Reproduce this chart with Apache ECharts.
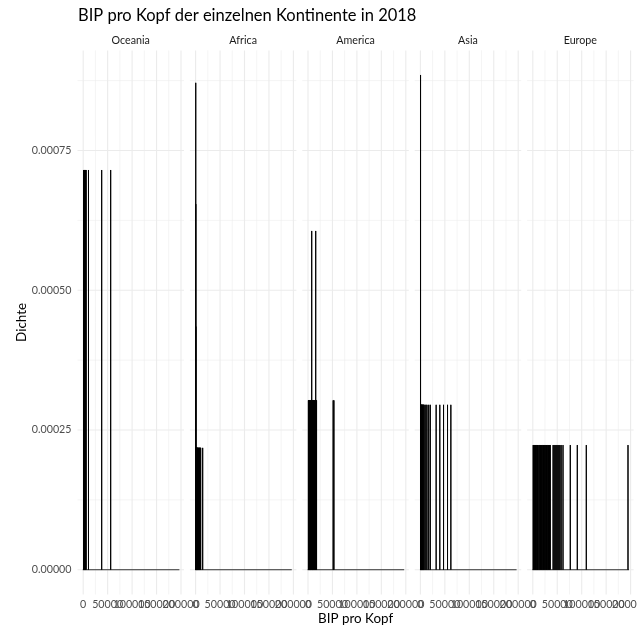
<!DOCTYPE html>
<html>
<head>
<meta charset="utf-8">
<script src="https://cdn.jsdelivr.net/npm/echarts@6/dist/echarts.min.js"></script>
<style>html,body{margin:0;padding:0;background:#fff}#c{width:637px;height:626px}</style>
</head>
<body>
<div id="c"></div>
<script>
// ---- data ----
const continents = ['Oceania', 'Africa', 'America', 'Asia', 'Europe'];

const oceaniaX = [1000, 1600, 2100, 2700, 3100, 3500, 4000, 4300, 5200, 5900, 10800, 37800, 56200];
const oceaniaD = [0.000715, 0.000715, 0.000715, 0.000715, 0.000715, 0.000715, 0.000715, 0.000715, 0.000715, 0.000715, 0.000715, 0.000715, 0.000715];

const africaX = [300, 450, 600, 750, 1000, 1300, 1500, 1700, 2000, 2200, 2500, 2900, 3300, 3600, 4100, 4500, 5000, 5900, 6400, 7200, 8000, 8300, 9000, 10000, 10400, 14500];
const africaD = [0.000871, 0.000654, 0.000435, 0.000218, 0.000218, 0.000218, 0.000218, 0.000218, 0.000218, 0.000218, 0.000218, 0.000218, 0.000218, 0.000218, 0.000218, 0.000218, 0.000218, 0.000218, 0.000218, 0.000218, 0.000218, 0.000218, 0.000218, 0.000218, 0.000218, 0.000218];

const americaX = [800, 1500, 2300, 3000, 3600, 4400, 5200, 6000, 6900, 7600, 8300, 9000, 9800, 10600, 11400, 12300, 13100, 14000, 14900, 15800, 16600, 17500, 51500, 53000];
const americaD = [0.000303, 0.000303, 0.000303, 0.000303, 0.000303, 0.000303, 0.000303, 0.000303, 0.000303, 0.000606, 0.000303, 0.000303, 0.000303, 0.000303, 0.000303, 0.000303, 0.000303, 0.000303, 0.000303, 0.000606, 0.000303, 0.000303, 0.000303, 0.000303];

const asiaX = [300, 1000, 1500, 2000, 2500, 3000, 3600, 4200, 5000, 5800, 6500, 7300, 9400, 11500, 13500, 17000, 20200, 32200, 39700, 47300, 55500, 62300];
const asiaD = [0.000885, 0.000295, 0.000295, 0.000295, 0.000295, 0.000295, 0.000295, 0.000295, 0.000295, 0.000295, 0.000295, 0.000295, 0.000295, 0.000295, 0.000295, 0.000295, 0.000295, 0.000295, 0.000295, 0.000295, 0.000295, 0.000295];

const europeX = [800, 2000, 3200, 4500, 5800, 7000, 8400, 9600, 11000, 13000, 14500, 16000, 17500, 19000, 20500, 22000, 23500, 25000, 26500, 28000, 29500, 31000, 32500, 34000, 35800,
                 41500, 43500, 45500, 47500, 49500, 51500, 53500, 55500, 58000,
                 61800, 76700, 91000, 109400, 194700];
const europeD = europeX.map(() => 0.000223);

const binWidth = 100;
const binRange = [-900, 196700];

const xMajor = [0, 50000, 100000, 150000, 200000];
const xMinor = [25000, 75000, 125000, 175000];
const xLabels = ['0', '50000', '100000', '150000', '200000'];
const yMajor = [0, 0.00025, 0.0005, 0.00075];
const yMinor = [0.000125, 0.000375, 0.000625, 0.000875];
const yLabels = ['0.00000', '0.00025', '0.00050', '0.00075'];

const titleText = 'BIP pro Kopf der einzelnen Kontinente in 2018';
const xTitle = 'BIP pro Kopf';
const yTitle = 'Dichte';

// ---- layout ----
const FONT = 'Lato';
const PANEL_LEFT = 77.5, STEP = 112.4, PANEL_W = 106.5, TOP = 50.4, H = 544.1;
const X_MIN = -11650, X_MAX = 206140, Y_MIN = -0.0000443, Y_MAX = 0.000929;

const seriesX = [oceaniaX, africaX, americaX, asiaX, europeX];
const seriesD = [oceaniaD, africaD, americaD, asiaD, europeD];

const grids = [], xAxes = [], yAxes = [], series = [], graphics = [];

const gridData = [];
xMajor.forEach(v => gridData.push([0, v, 1]));
xMinor.forEach(v => gridData.push([0, v, 0]));
yMajor.forEach(v => gridData.push([1, v, 1]));
yMinor.forEach(v => gridData.push([1, v, 0]));

const xLabelData = xMajor.map((v, k) => [v, 0, k]);

continents.forEach((name, i) => {
  const left = PANEL_LEFT + i * STEP;
  grids.push({left: left, top: TOP, width: PANEL_W, height: H, containLabel: false});
  xAxes.push({
    type: 'value', gridIndex: i, min: X_MIN, max: X_MAX,
    axisLine: {show: false}, axisTick: {show: false}, splitLine: {show: false},
    axisLabel: {show: false}
  });
  yAxes.push({
    type: 'value', gridIndex: i, min: Y_MIN, max: Y_MAX,
    axisLine: {show: false}, axisTick: {show: false}, splitLine: {show: false},
    axisLabel: {show: i === 0, customValues: yMajor, color: '#4d4d4d', fontSize: 10.7, fontFamily: FONT, margin: 6,
                formatter: v => { const k = yMajor.findIndex(t => Math.abs(t - v) < 1e-9); return k >= 0 ? yLabels[k] : ''; }}
  });
  // background grid lines
  series.push({
    type: 'custom', xAxisIndex: i, yAxisIndex: i, z: 0, silent: true,
    data: gridData,
    encode: {x: 1, y: 1},
    renderItem: (params, api) => {
      const cs = params.coordSys;
      const orient = api.value(0), v = api.value(1), major = api.value(2);
      const lw = major ? 1.1 : 0.55;
      if (orient === 0) {
        const px = api.coord([v, 0])[0];
        return {type: 'line', shape: {x1: px, y1: cs.y, x2: px, y2: cs.y + cs.height},
                style: {stroke: '#ebebeb', lineWidth: lw}};
      } else {
        const py = api.coord([0, v])[1];
        return {type: 'line', shape: {x1: cs.x, y1: py, x2: cs.x + cs.width, y2: py},
                style: {stroke: '#ebebeb', lineWidth: lw}};
      }
    }
  });
  // x tick labels (placed through the x scale)
  series.push({
    type: 'custom', xAxisIndex: i, yAxisIndex: i, z: 1, silent: true,
    data: xLabelData,
    encode: {x: 0, y: 1},
    renderItem: (params, api) => {
      const cs = params.coordSys;
      const px = api.coord([api.value(0), 0])[0];
      return {type: 'text', x: px, y: cs.y + cs.height + 10,
              style: {text: xLabels[api.value(2)], fill: '#4d4d4d', font: '10.7px ' + FONT,
                      textAlign: 'center', textVerticalAlign: 'middle'}};
    }
  });
  // zero-height bins: baseline
  series.push({
    type: 'line', xAxisIndex: i, yAxisIndex: i, z: 2, silent: true, symbol: 'none',
    data: [[binRange[0], 0], [binRange[1], 0]],
    lineStyle: {color: '#333', width: 1}
  });
  // histogram bars
  const bars = seriesX[i].map((x, k) => [x, seriesD[i][k]]);
  series.push({
    type: 'custom', xAxisIndex: i, yAxisIndex: i, z: 3, silent: true,
    data: bars,
    encode: {x: 0, y: 1},
    renderItem: (params, api) => {
      const x = api.value(0), d = api.value(1);
      const p0 = api.coord([x - binWidth / 2, 0]);
      const p1 = api.coord([x + binWidth / 2, d]);
      return {type: 'rect',
              shape: {x: p0[0], y: p1[1], width: p1[0] - p0[0], height: p0[1] - p1[1]},
              style: {fill: '#fff', stroke: '#000', lineWidth: 1}};
    }
  });
  graphics.push({type: 'text', x: left + PANEL_W / 2, y: 41,
    style: {text: name, fill: '#1a1a1a', font: '10.7px ' + FONT, textAlign: 'center', textVerticalAlign: 'middle'}});
});

graphics.push({type: 'text', x: 78, y: 16,
  style: {text: titleText, fill: '#000', font: '16.5px ' + FONT, textAlign: 'left', textVerticalAlign: 'middle'}});
graphics.push({type: 'text', x: PANEL_LEFT + (4 * STEP + PANEL_W) / 2, y: 619,
  style: {text: xTitle, fill: '#000', font: '13.4px ' + FONT, textAlign: 'center', textVerticalAlign: 'middle'}});
graphics.push({type: 'text', x: 22, y: TOP + H / 2, rotation: Math.PI / 2,
  style: {text: yTitle, fill: '#000', font: '13.4px ' + FONT, textAlign: 'center', textVerticalAlign: 'middle'}});

const chart = echarts.init(document.getElementById('c'), null, {renderer: 'canvas'});
chart.setOption({
  animation: false,
  backgroundColor: '#fff',
  grid: grids, xAxis: xAxes, yAxis: yAxes, series: series,
  graphic: graphics
});
</script>
</body>
</html>
